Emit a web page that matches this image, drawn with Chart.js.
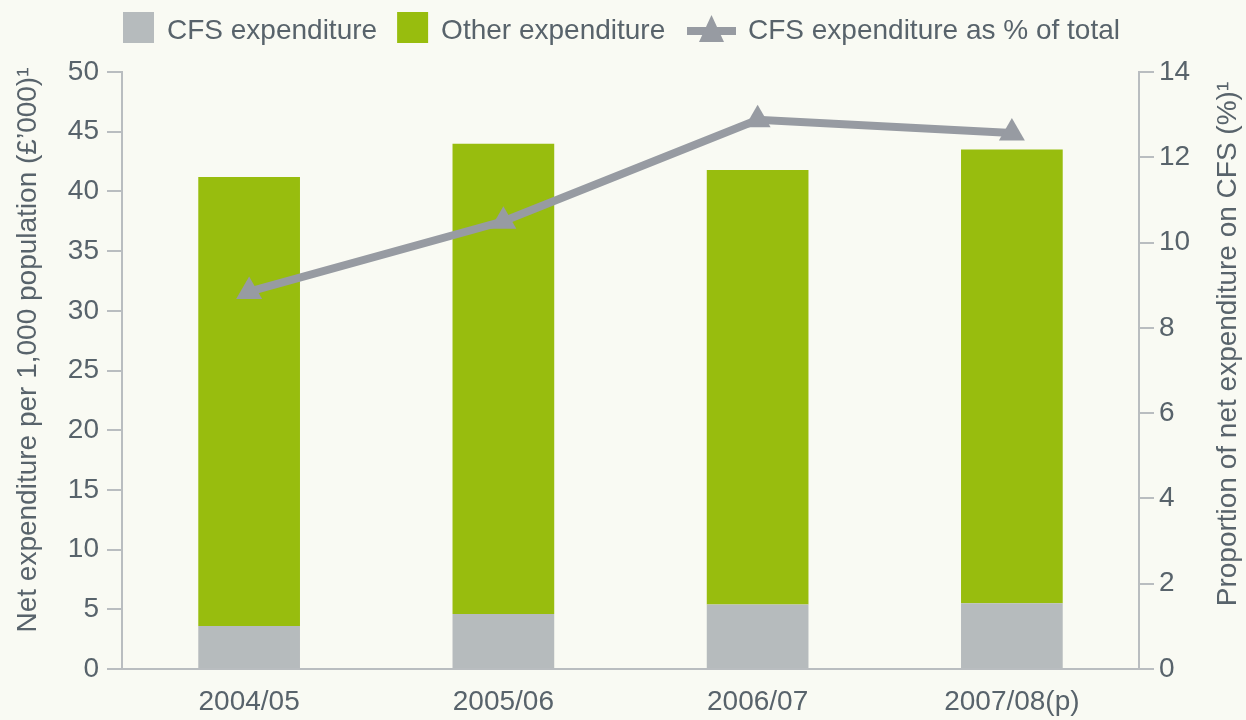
<!DOCTYPE html>
<html>
<head>
<meta charset="utf-8">
<script src="https://cdn.jsdelivr.net/npm/chart.js@4.4.1/dist/chart.umd.min.js"></script>
<style>
  html, body { margin: 0; padding: 0; background: #f9faf3; }
  #wrap { width: 1246px; height: 720px; }
</style>
</head>
<body>
<div id="wrap"><canvas id="expChart" width="1246" height="720"></canvas></div>
<script>
// Data
const years = ['2004/05', '2005/06', '2006/07', '2007/08(p)'];
const cfsSpend = [3.6, 4.6, 5.4, 5.5];
const otherSpend = [37.6, 39.4, 36.4, 38.0];
const cfsShare = [8.85, 10.5, 12.88, 12.57];

const leftTitle = 'Net expenditure per 1,000 population (£\u2019000)\u00b9';
const rightTitle = 'Proportion of net expenditure on CFS (%)\u00b9';

const textColor = '#58636b';
const axisColor = '#b9bdc0';
const fontFamily = "'Liberation Sans', Arial, sans-serif";

// custom legend across the top, plus the two axis titles (both read bottom to top)
const topLegend = {
  id: 'topLegend',
  afterDraw(chart) {
    const ctx = chart.ctx;
    const ds = chart.data.datasets;
    ctx.save();
    ctx.font = '28px ' + fontFamily;
    ctx.fillStyle = textColor;
    ctx.textBaseline = 'middle';
    let x = 123;
    const cy = 31;
    // bar entries
    [ds[0], ds[1]].forEach(d => {
      ctx.fillStyle = d.backgroundColor;
      ctx.fillRect(x, 12, 31, 31);
      x += 31 + 13;
      ctx.fillStyle = textColor;
      ctx.fillText(d.label, x, cy);
      x += ctx.measureText(d.label).width + 20;
    });
    // line entry
    const ln = ds[2];
    x = 687;
    ctx.strokeStyle = ln.borderColor;
    ctx.lineWidth = 8;
    ctx.beginPath();
    ctx.moveTo(x, 31);
    ctx.lineTo(x + 49, 31);
    ctx.stroke();
    ctx.fillStyle = ln.borderColor;
    ctx.beginPath();
    ctx.moveTo(x + 24.5, 15);
    ctx.lineTo(x + 37, 42);
    ctx.lineTo(x + 12, 42);
    ctx.closePath();
    ctx.fill();
    ctx.fillStyle = textColor;
    ctx.fillText(ln.label, 748, cy);

    // axis titles
    ctx.textAlign = 'center';
    ctx.fillStyle = textColor;
    ctx.save();
    ctx.translate(28, 350);
    ctx.rotate(-Math.PI / 2);
    ctx.fillText(leftTitle, 0, 0);
    ctx.restore();
    ctx.save();
    ctx.translate(1228, 344);
    ctx.rotate(-Math.PI / 2);
    ctx.fillText(rightTitle, 0, 0);
    ctx.restore();
    ctx.restore();
  }
};

const ctx = document.getElementById('expChart').getContext('2d');
new Chart(ctx, {
  type: 'bar',
  data: {
    labels: years,
    datasets: [
      {
        label: 'CFS expenditure',
        data: cfsSpend,
        backgroundColor: '#b6bbbd',
        yAxisID: 'y',
        order: 1,
        barPercentage: 0.4,
        categoryPercentage: 1
      },
      {
        label: 'Other expenditure',
        data: otherSpend,
        backgroundColor: '#98bd0e',
        yAxisID: 'y',
        order: 1,
        barPercentage: 0.4,
        categoryPercentage: 1
      },
      {
        type: 'line',
        label: 'CFS expenditure as % of total',
        data: cfsShare,
        yAxisID: 'y1',
        order: 0,
        borderColor: '#979ba2',
        backgroundColor: '#979ba2',
        borderWidth: 8,
        pointStyle: 'triangle',
        pointRadius: 15,
        pointHoverRadius: 15,
        pointBorderWidth: 0,
        pointBackgroundColor: '#979ba2',
        tension: 0
      }
    ]
  },
  options: {
    responsive: false,
    animation: false,
    layout: { padding: { top: 72, left: 0, right: 0, bottom: 0 } },
    plugins: {
      legend: { display: false },
      tooltip: { enabled: false }
    },
    scales: {
      x: {
        stacked: true,
        grid: { display: false, drawTicks: false },
        border: { display: true, color: axisColor, width: 2 },
        ticks: { color: textColor, font: { family: fontFamily, size: 28 }, padding: 16 },
        afterFit(scale) { scale.height = 51; }
      },
      y: {
        stacked: true,
        position: 'left',
        min: 0,
        max: 50,
        grid: { drawOnChartArea: false, drawTicks: true, tickLength: 15, color: axisColor, lineWidth: 2 },
        border: { display: true, color: axisColor, width: 2 },
        ticks: { stepSize: 5, color: textColor, font: { family: fontFamily, size: 28 }, padding: 8 },
        afterFit(scale) { scale.width = 122; }
      },
      y1: {
        position: 'right',
        min: 0,
        max: 14,
        grid: { drawOnChartArea: false, drawTicks: true, tickLength: 15, color: axisColor, lineWidth: 2 },
        border: { display: true, color: axisColor, width: 2 },
        ticks: { stepSize: 2, color: textColor, font: { family: fontFamily, size: 28 }, padding: 5 },
        afterFit(scale) { scale.width = 107; }
      }
    }
  },
  plugins: [topLegend]
});
</script>
</body>
</html>
